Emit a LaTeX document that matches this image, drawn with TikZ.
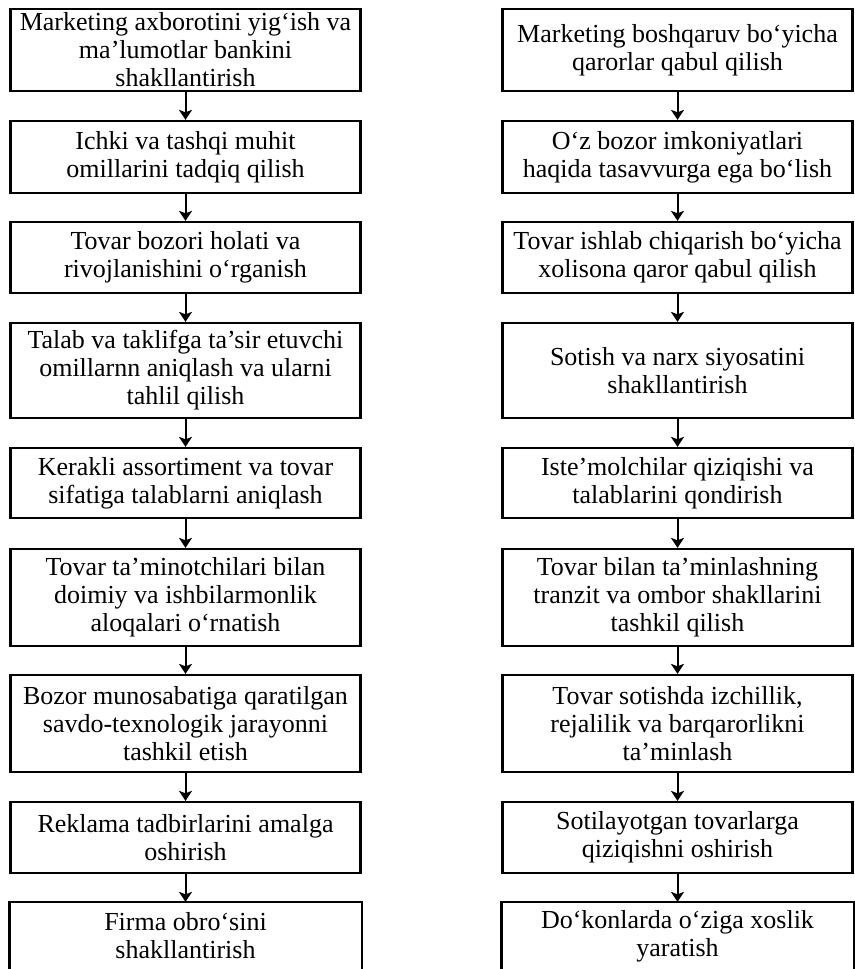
\documentclass[tikz,border=0pt]{standalone}
\usepackage{fontspec}
\setmainfont{Liberation Serif}
\usetikzlibrary{arrows.meta}

\begin{document}
\begin{tikzpicture}[
            x=0.5pt, y=-0.5pt,
            stage/.style={rectangle, draw, line width=1.1pt, minimum width=175pt, align=center, inner xsep=1pt, inner ysep=0pt, font=\fontsize{13}{14}\selectfont},
            open_stage/.style={stage, draw=none},
            edge_line/.style={draw, line width=1.1pt},
            arrow/.style={draw, line width=1pt, -{Stealth[length=5pt, width=6.5pt, inset=1.2pt]}}
        ]
        \useasboundingbox (0,0) rectangle (855,969);

        % Left column
        \node[stage, minimum height=41pt] (info) at (185.5,50) {Marketing axborotini yig‘ish va\\ma’lumotlar bankini\\shakllantirish};
        \node[stage, minimum height=36pt] (milieu) at (185.5,157) {Ichki va tashqi muhit\\omillarini tadqiq qilish};
        \node[stage, minimum height=35.5pt] (market) at (185.5,257.5) {Tovar bozori holati va\\rivojlanishini o‘rganish};
        \node[stage, minimum height=47.5pt] (demand) at (185.5,370.5) {Talab va taklifga ta’sir etuvchi\\omillarnn aniqlash va ularni\\tahlil qilish};
        \node[stage, minimum height=35pt] (assort) at (185.5,483) {Kerakli assortiment va tovar\\sifatiga talablarni aniqlash};
        \node[stage, minimum height=48.5pt] (supply) at (185.5,597.5) {Tovar ta’minotchilari bilan\\doimiy va ishbilarmonlik\\aloqalari o‘rnatish};
        \node[stage, minimum height=48.5pt] (process) at (185.5,723.5) {Bozor munosabatiga qaratilgan\\savdo-texnologik jarayonni\\tashkil etish};
        \node[stage, minimum height=35.5pt] (advert) at (185.5,837.5) {Reklama tadbirlarini amalga\\oshirish};
        \node[open_stage, minimum height=33pt] (image) at (185.5,936) {Firma obro‘sini\\shakllantirish};

        % Right column
        \node[stage, minimum height=41pt] (decide) at (677.5,50) {Marketing boshqaruv bo‘yicha\\qarorlar qabul qilish};
        \node[stage, minimum height=36pt] (chance) at (677.5,157) {O‘z bozor imkoniyatlari\\haqida tasavvurga ega bo‘lish};
        \node[stage, minimum height=35.5pt] (produce) at (677.5,257.5) {Tovar ishlab chiqarish bo‘yicha\\xolisona qaror qabul qilish};
        \node[stage, minimum height=47.5pt] (price) at (677.5,370.5) {Sotish va narx siyosatini\\shakllantirish};
        \node[stage, minimum height=35pt] (consumer) at (677.5,483) {Iste’molchilar qiziqishi va\\talablarini qondirish};
        \node[stage, minimum height=48.5pt] (transit) at (677.5,597.5) {Tovar bilan ta’minlashning\\tranzit va ombor shakllarini\\tashkil qilish};
        \node[stage, minimum height=48.5pt] (steady) at (677.5,723.5) {Tovar sotishda izchillik,\\rejalilik va barqarorlikni\\ta’minlash};
        \node[stage, minimum height=35.5pt] (interest) at (677.5,837.5) {Sotilayotgan tovarlarga\\qiziqishni oshirish};
        \node[open_stage, minimum height=33pt] (shop) at (677.5,936) {Do‘konlarda o‘ziga xoslik\\yaratish};

        % Bottom boxes run off the page
        \draw[edge_line] (image.south west) -- (image.north west) -- (image.north east) -- (image.south east);
        \draw[edge_line] (shop.south west) -- (shop.north west) -- (shop.north east) -- (shop.south east);

        \draw[arrow] (info) -- (milieu);
        \draw[arrow] (milieu) -- (market);
        \draw[arrow] (market) -- (demand);
        \draw[arrow] (demand) -- (assort);
        \draw[arrow] (assort) -- (supply);
        \draw[arrow] (supply) -- (process);
        \draw[arrow] (process) -- (advert);
        \draw[arrow] (advert) -- (image);

        \draw[arrow] (decide) -- (chance);
        \draw[arrow] (chance) -- (produce);
        \draw[arrow] (produce) -- (price);
        \draw[arrow] (price) -- (consumer);
        \draw[arrow] (consumer) -- (transit);
        \draw[arrow] (transit) -- (steady);
        \draw[arrow] (steady) -- (interest);
        \draw[arrow] (interest) -- (shop);

    \end{tikzpicture}
\end{document}
